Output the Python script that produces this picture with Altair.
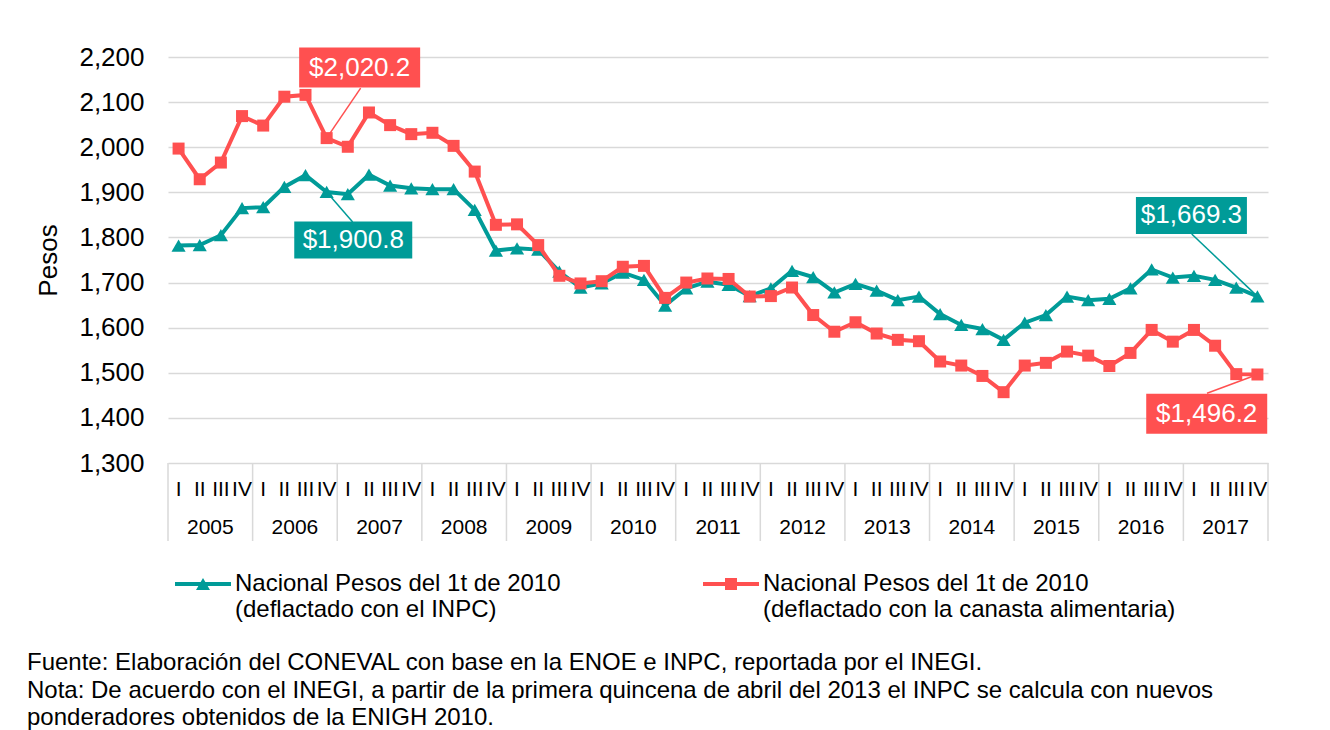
import altair as alt
import pandas as pd

# ---------------- data ----------------
years = list(range(2005, 2018))
quarter_names = ["I", "II", "III", "IV"]
series_inpc = "Nacional Pesos del 1t de 2010|(deflactado con el INPC)"
series_canasta = "Nacional Pesos del 1t de 2010|(deflactado con la canasta alimentaria)"

inpc = [1782, 1783, 1805, 1865, 1867, 1912, 1938, 1900.8,
        1896, 1939, 1915, 1909, 1907, 1907, 1861, 1771,
        1776, 1773, 1724, 1689, 1698, 1722, 1706, 1649,
        1687, 1702, 1695, 1670, 1687, 1726, 1712, 1678,
        1697, 1682, 1661, 1669, 1630, 1606, 1597, 1573,
        1611, 1628, 1669, 1661, 1664, 1687, 1729, 1711,
        1715, 1706, 1689, 1669.3]

canasta = [1997, 1929, 1966, 2069, 2048, 2112, 2116, 2020.2,
           2001, 2077, 2049, 2029, 2032, 2003, 1946, 1828,
           1829, 1783, 1715, 1698, 1703, 1735, 1737, 1666,
           1700, 1709, 1708, 1669, 1670, 1689, 1628, 1591,
           1612, 1587, 1573, 1570, 1525, 1516, 1493, 1457,
           1516, 1522, 1547, 1538, 1515, 1544, 1595, 1569,
           1595, 1560, 1497, 1496.2]

y_ticks = list(range(1300, 2201, 100))

footer = [
    "Fuente: Elaboración del CONEVAL con base en la ENOE e INPC, reportada por el INEGI.",
    "Nota: De acuerdo con el INEGI, a partir de la primera quincena de abril del 2013 el INPC se calcula con nuevos",
    "ponderadores obtenidos de la ENIGH 2010.",
]

# ---------------- style ----------------
FONT = "Liberation Sans"
TEAL = "#009B98"
RED = "#FF5050"
GRID = "#D9D9D9"
W, H = 1100, 406
n = len(inpc)
idx = list(range(n))

x_scale = alt.Scale(domain=[-0.5, n - 0.5], nice=False, zero=False)
xs = alt.X("idx:Q", scale=x_scale, axis=None)
y_scale = alt.Scale(domain=[1300, 2200], nice=False, zero=False)
y_axis = alt.Axis(values=y_ticks, format=",.0f", grid=True, gridColor=GRID, gridWidth=1.5,
                  domain=False, ticks=False, labelFontSize=26, labelPadding=24,
                  labelColor="black", title="Pesos", titleFontSize=26,
                  titleFontWeight="normal", titleColor="black", titlePadding=17)
ys = alt.Y("value:Q", scale=y_scale, axis=y_axis)

df_inpc = pd.DataFrame({"idx": idx, "value": inpc})
df_can = pd.DataFrame({"idx": idx, "value": canasta})


def series_layers(df, color, shape, size):
    base = alt.Chart(df)
    line = base.mark_line(color=color, strokeWidth=4).encode(x=xs, y=ys)
    pts = base.mark_point(filled=True, color=color, shape=shape, size=size, opacity=1).encode(x=xs, y=ys)
    return [line, pts]


# category axis: quarter labels, year labels, separators
qdf = pd.DataFrame({"idx": idx, "q": [quarter_names[i % 4] for i in idx]})
qtext = alt.Chart(qdf).mark_text(fontSize=21, baseline="middle", color="black").encode(
    x=xs, y=alt.value(H + 27), text="q:N")

ydf = pd.DataFrame({"year": [str(y) for y in years],
                    "mid": [4 * k + 1.5 for k in range(len(years))]})
ytext = alt.Chart(ydf).mark_text(fontSize=21, baseline="middle", color="black").encode(
    x=alt.X("mid:Q", scale=x_scale, axis=None), y=alt.value(H + 65), text="year:N")

sdf = pd.DataFrame({"b": [4 * k - 0.5 for k in range(len(years) + 1)]})
seps = alt.Chart(sdf).mark_rule(color=GRID, strokeWidth=1.5).encode(
    x=alt.X("b:Q", scale=x_scale, axis=None), y=alt.value(H), y2=alt.value(H + 78))


def annotation(values, i, color, box_dx, box_dy, lead_dx, lead_dy, bw, bh):
    v = values[i]
    d = pd.DataFrame({"idx": [i], "value": [v], "label": ["${:,.1f}".format(v)]})
    b = alt.Chart(d)
    lead = b.mark_rule(color=color, strokeWidth=1.5, x2Offset=lead_dx, y2Offset=lead_dy).encode(
        x=xs, y=ys, x2="idx:Q", y2="value:Q")
    box = b.mark_rect(color=color, xOffset=box_dx - bw / 2, x2Offset=box_dx + bw / 2,
                      yOffset=box_dy - bh / 2, y2Offset=box_dy + bh / 2).encode(
        x=xs, y=ys, x2="idx:Q", y2="value:Q")
    text = b.mark_text(color="white", fontSize=26, dx=box_dx, dy=box_dy,
                       baseline="middle", align="center").encode(x=xs, y=ys, text="label:N")
    return [lead, box, text]


ann = []
ann += annotation(canasta, 7, RED, 33, -70.6, 34, -50, 121, 40)
ann += annotation(inpc, 7, TEAL, 26.6, 48, 26, 30, 118, 37)
ann += annotation(inpc, n - 1, TEAL, -66, -81, -65.7, -62.4, 111, 37)
ann += annotation(canasta, n - 1, RED, -50.7, 39.2, -50.4, 18.8, 121, 40)

# legend (symbols: line with marker)
path_tri = ("M-1,-0.071L1,-0.071L1,0.071L-1,0.071Z "
            "M0,-0.215L0.25,0.215L-0.25,0.215Z")
path_sq = ("M-1,-0.071L1,-0.071L1,0.071L-1,0.071Z "
           "M-0.214,-0.214L0.214,-0.214L0.214,0.214L-0.214,0.214Z")
leg = alt.Legend(title=None, orient="none", legendX=7, legendY=499, direction="horizontal",
                 columns=2, columnPadding=142, symbolSize=3136, symbolStrokeWidth=0,
                 labelExpr="split(datum.label, '|')", labelFontSize=24, labelLimit=700,
                 labelOffset=4, labelColor="black", padding=0, symbolOffset=0)
legend_df = pd.DataFrame({"serie": [series_inpc, series_canasta]})
legend_layer = alt.Chart(legend_df).transform_filter("false").mark_point(filled=True, opacity=1).encode(
    color=alt.Color("serie:N", scale=alt.Scale(domain=[series_inpc, series_canasta], range=[TEAL, RED]), legend=leg),
    shape=alt.Shape("serie:N", scale=alt.Scale(domain=[series_inpc, series_canasta], range=[path_tri, path_sq]), legend=leg),
)

one = pd.DataFrame({"a": [0]})
footer_layer = alt.Chart(one).mark_text(align="left", baseline="alphabetic", fontSize=24,
                                        lineHeight=27.5, color="black").encode(
    x=alt.value(27 - 168), y=alt.value(670 - 57), text=alt.value(footer))

border_top = alt.Chart(one).mark_rule(color=GRID, strokeWidth=1.5).encode(
    x=alt.value(-161), x2=alt.value(1154), y=alt.value(-51))
border_left = alt.Chart(one).mark_rule(color=GRID, strokeWidth=1.5).encode(
    x=alt.value(-161), y=alt.value(-51), y2=alt.value(H + 300))

layers = ([border_top, border_left, seps, qtext, ytext]
          + series_layers(df_inpc, TEAL, "triangle-up", 200)
          + series_layers(df_can, RED, "square", 144)
          + ann + [legend_layer, footer_layer])

chart = alt.layer(*layers).properties(
    width=W, height=H,
    autosize=alt.AutoSizeParams(type="none"),
    padding={"left": 160, "top": 49, "right": 54, "bottom": 267},
).configure_view(stroke=None).configure_axis(
    labelFont=FONT, titleFont=FONT
).configure_text(font=FONT).configure_legend(labelFont=FONT)

chart.save("out.html", embed_options={"renderer": "svg", "actions": False})
